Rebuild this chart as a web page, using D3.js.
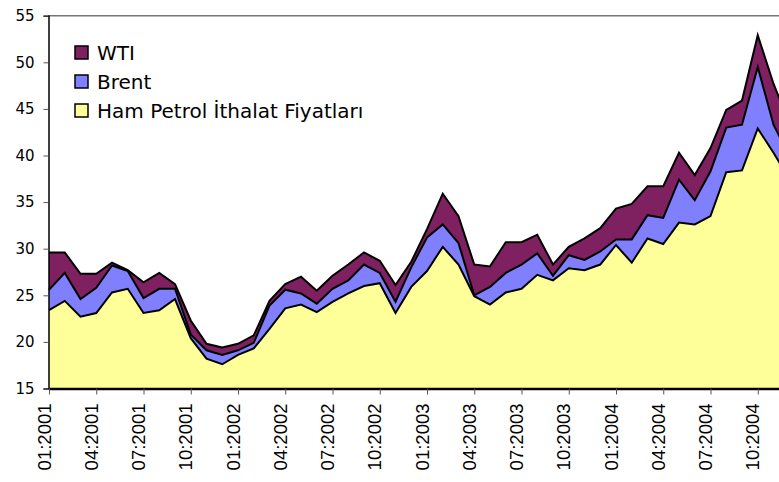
<!DOCTYPE html>
<html>
<head>
<meta charset="utf-8">
<script src="https://cdn.jsdelivr.net/npm/d3@7"></script>
<style>
    body { margin: 0; background: #fff; }
    svg { display: block; }
</style>
</head>
<body>
<div id="chart"></div>
<script>
// monthly categories 01:2001 .. 12:2004
const years = [2001, 2002, 2003, 2004];
const months = [];
years.forEach(y => {
    for (let m = 1; m <= 12; m++) months.push((m < 10 ? "0" + m : "" + m) + ":" + y);
});

const tickLabels = ["01:2001", "04:2001", "07:2001", "10:2001", "01:2002", "04:2002", "07:2002", "10:2002",
    "01:2003", "04:2003", "07:2003", "10:2003", "01:2004", "04:2004", "07:2004", "10:2004"];
const yTicks = [15, 20, 25, 30, 35, 40, 45, 50, 55];

const wti = [29.6, 29.6, 27.3, 27.3, 28.5, 27.7, 26.4, 27.4, 26.2, 22.3, 19.8, 19.4,
    19.8, 20.7, 24.4, 26.2, 27.0, 25.5, 27.1, 28.3, 29.6, 28.7, 26.1, 28.6,
    32.1, 35.9, 33.5, 28.3, 28.1, 30.7, 30.7, 31.5, 28.3, 30.2, 31.1, 32.2,
    34.3, 34.8, 36.7, 36.7, 40.3, 37.9, 40.8, 44.9, 45.9, 52.9, 47.7, 43.5];
const brent = [25.6, 27.4, 24.6, 25.8, 28.2, 27.6, 24.7, 25.7, 25.7, 20.8, 19.1, 18.6,
    19.1, 19.9, 23.9, 25.6, 25.2, 24.1, 25.7, 26.6, 28.3, 27.4, 24.3, 28.0,
    31.2, 32.6, 30.6, 25.0, 25.9, 27.4, 28.3, 29.5, 27.1, 29.3, 28.8, 29.7,
    31.0, 31.0, 33.6, 33.3, 37.4, 35.2, 38.3, 43.0, 43.3, 49.5, 43.3, 40.0];
const hamPetrol = [23.4, 24.4, 22.7, 23.1, 25.3, 25.7, 23.1, 23.4, 24.6, 20.4, 18.2, 17.6,
    18.6, 19.3, 21.4, 23.6, 24.0, 23.2, 24.3, 25.2, 26.0, 26.3, 23.1, 25.9,
    27.6, 30.2, 28.3, 24.9, 24.0, 25.3, 25.7, 27.2, 26.6, 27.9, 27.7, 28.3,
    30.4, 28.5, 31.1, 30.5, 32.8, 32.6, 33.5, 38.2, 38.4, 42.9, 40.3, 37.5];

const seriesNames = ["WTI", "Brent", "Ham Petrol İthalat Fiyatları"];
const seriesValues = [wti, brent, hamPetrol];
const seriesColors = ["#7f2160", "#8080ff", "#ffff99"];

const width = 779, height = 482;

const svg = d3.select("#chart")
    .append("svg")
    .attr("width", width)
    .attr("height", height);

// plot extends past the right edge of the picture
const x = d3.scalePoint()
    .domain(months)
    .range([49, 49 + 15.75 * (months.length - 1)]);

const y = d3.scaleLinear()
    .domain([15, 55])
    .range([388.5, 15.7]);

// top border of plot area
svg.append("line")
    .attr("x1", 48).attr("x2", width)
    .attr("y1", 15.7).attr("y2", 15.7)
    .attr("stroke", "#777")
    .attr("stroke-width", 1.5);

const area = d3.area()
    .x((d, i) => x(months[i]))
    .y0(y(15))
    .y1(d => y(d));

const line = d3.line()
    .x((d, i) => x(months[i]))
    .y(d => y(d));

// back to front: WTI, Brent, Ham Petrol
seriesValues.forEach((vals, k) => {
    svg.append("path")
        .datum(vals)
        .attr("d", area)
        .attr("fill", seriesColors[k]);
    svg.append("path")
        .datum(vals)
        .attr("d", line)
        .attr("fill", "none")
        .attr("stroke", "#000")
        .attr("stroke-width", 2)
        .attr("stroke-linejoin", "miter");
});

// y axis
const yAxis = svg.append("g")
    .attr("transform", "translate(48.5,0)")
    .call(d3.axisLeft(y).tickValues(yTicks).tickSize(5).tickPadding(9));
yAxis.select(".domain").attr("stroke", "#000").attr("stroke-width", 1.5);
yAxis.selectAll(".tick line").attr("stroke", "#555");
yAxis.selectAll(".tick text")
    .attr("font-family", "DejaVu Sans, sans-serif")
    .attr("font-size", "15px")
    .attr("fill", "#000");

// x axis
const xAxis = svg.append("g")
    .attr("transform", "translate(0,388.5)")
    .call(d3.axisBottom(x).tickValues(tickLabels).tickSize(6).tickSizeOuter(0));
xAxis.select(".domain").attr("stroke", "#000").attr("stroke-width", 2.5);
xAxis.selectAll(".tick line").attr("stroke", "#555");
xAxis.selectAll(".tick text")
    .attr("font-family", "Liberation Sans, Arial, sans-serif")
    .attr("font-size", "18.5px")
    .attr("fill", "#000")
    .attr("text-anchor", "end")
    .attr("transform", "translate(1,15) rotate(-90)")
    .attr("x", 0)
    .attr("y", 0)
    .attr("dy", 0);

// legend
const legend = svg.append("g")
    .attr("transform", "translate(75,46)");

seriesNames.forEach((name, k) => {
    const row = legend.append("g").attr("transform", `translate(0,${k * 29})`);
    row.append("rect")
        .attr("x", 0).attr("y", 0)
        .attr("width", 13).attr("height", 13)
        .attr("fill", seriesColors[k])
        .attr("stroke", "#000")
        .attr("stroke-width", 1.5);
    row.append("text")
        .attr("x", 22)
        .attr("y", 13.5)
        .attr("font-family", "DejaVu Sans, sans-serif")
        .attr("font-size", "20px")
        .attr("fill", "#000")
        .text(name);
});
</script>
</body>
</html>
